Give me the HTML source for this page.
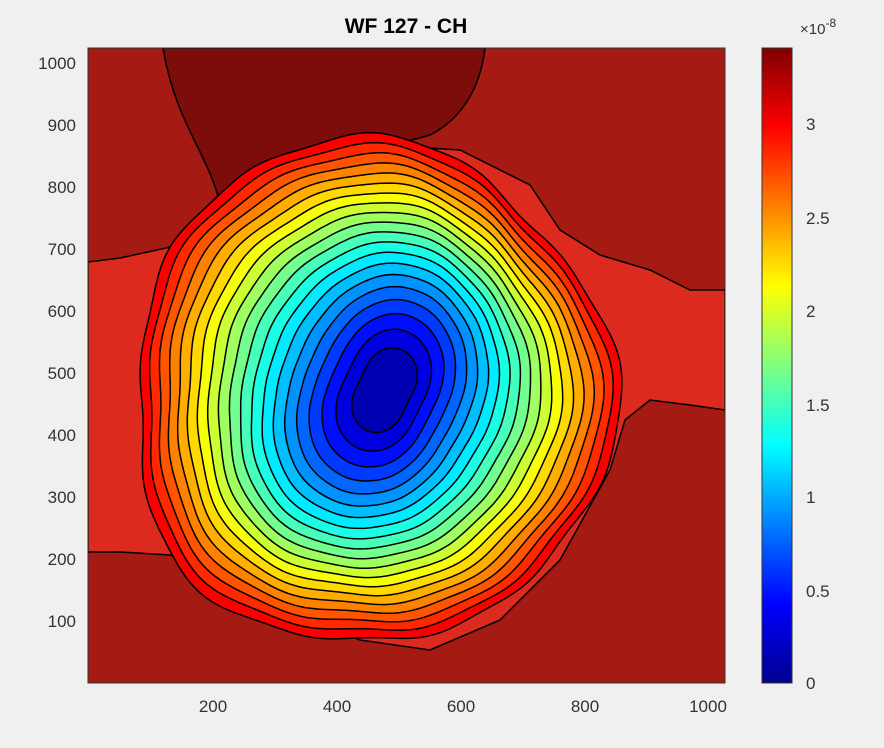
<!DOCTYPE html>
<html><head><meta charset="utf-8"><style>
html,body{margin:0;padding:0;background:#f0f0f0;}
svg{display:block;font-family:"Liberation Sans",sans-serif;}
</style></head><body>
<svg id="s" width="884" height="748" xmlns="http://www.w3.org/2000/svg">
<rect width="884" height="748" fill="#f0f0f0"/>
<defs>
<linearGradient id="jet" x1="0" y1="1" x2="0" y2="0">
<stop offset="0" stop-color="#00008f"/>
<stop offset="0.125" stop-color="#0000ff"/>
<stop offset="0.375" stop-color="#00ffff"/>
<stop offset="0.625" stop-color="#ffff00"/>
<stop offset="0.875" stop-color="#ff0000"/>
<stop offset="1" stop-color="#800000"/>
</linearGradient>
<clipPath id="cp"><rect x="88" y="48" width="637" height="635"/></clipPath>
</defs>
<g clip-path="url(#cp)" id="plot">
<rect x="88" y="48" width="637" height="635" fill="#a51a13"/>
<path d="M88,262 L120,258 L180,245 L220,215 L300,160 L380,145 L460,150 L530,185 L560,230 L600,255 L650,270 L690,290 L725,290 L725,410 L690,405 L650,400 L625,420 L610,470 L560,560 L500,620 L430,650 L360,640 L290,610 L230,570 L170,555 L120,552 L88,552 Z" fill="#dd2a1e" stroke="#000" stroke-width="1.5"/>
<path d="M163,48 L485,48 C480,90 460,120 430,135 C380,150 300,160 260,170 L218,196 C205,150 175,120 163,48 Z" fill="#7c0d0a" stroke="#000" stroke-width="1.5"/>
<g id="cont"></g>
</g>
<rect x="88" y="48" width="637" height="635" fill="none" stroke="#333" stroke-width="1"/>
<text x="406" y="33" font-size="21" font-weight="bold" text-anchor="middle" fill="#000">WF 127 - CH</text>
<g font-size="17" fill="#333" text-anchor="end">
<text x="76" y="69">1000</text><text x="76" y="131">900</text><text x="76" y="193">800</text>
<text x="76" y="255">700</text><text x="76" y="317">600</text><text x="76" y="379">500</text>
<text x="76" y="441">400</text><text x="76" y="503">300</text><text x="76" y="565">200</text>
<text x="76" y="627">100</text>
</g>
<g font-size="17" fill="#333" text-anchor="middle">
<text x="213" y="712">200</text><text x="337" y="712">400</text><text x="461" y="712">600</text>
<text x="585" y="712">800</text><text x="708" y="712">1000</text>
</g>
<rect x="762" y="48" width="30" height="635" fill="url(#jet)" stroke="#333"/>
<g font-size="17" fill="#333">
<text x="806" y="689">0</text><text x="806" y="597">0.5</text><text x="806" y="503">1</text>
<text x="806" y="411">1.5</text><text x="806" y="317">2</text><text x="806" y="224">2.5</text>
<text x="806" y="130">3</text>
<text x="800" y="34" font-size="15">×10<tspan dy="-7" font-size="12">-8</tspan></text>
</g>
</svg>
<script>
function jet(t){t=Math.max(0,Math.min(1,t));
function f(x){return Math.max(0,Math.min(1,x));}
var r=f(Math.min(4*t-1.5,-4*t+4.5)),g=f(Math.min(4*t-0.5,-4*t+3.5)),b=f(Math.min(4*t+0.5,-4*t+2.5));
return 'rgb('+Math.round(r*255)+','+Math.round(g*255)+','+Math.round(b*255)+')';}
var g=document.getElementById('cont'),html='';
var vmax=3.37,N=20;
for(var k=N-1;k>=0;k--){
 var v=0.1+k*0.147; var fr=v/2.9;
 var R=248*(0.08+0.92*Math.pow(fr,0.8));
 var cx=385+(370-385)*fr, cy=390+(394-390)*fr;
 var e=0.25*Math.pow(1-fr,2);
 var pts=[];
 for(var i=0;i<240;i++){
  var a=i/240*2*Math.PI;
  var w=1-e*Math.cos(2*(a-0.47));
  var p=1+fr*(0.035*Math.sin(3*a+1)+0.02*Math.sin(5*a+2)+0.008*Math.sin(13*a+k*0.5));
  var rr=R*w*p;
  pts.push((cx+rr*Math.cos(a)*0.97).toFixed(1)+','+(cy+rr*Math.sin(a)*1.02).toFixed(1));
 }
 var col=jet((v+0.07)/vmax);
 html+='<polygon points="'+pts.join(' ')+'" fill="'+col+'" stroke="#000" stroke-width="1.5"/>';
}
g.innerHTML=html;
</script>
</body></html>
